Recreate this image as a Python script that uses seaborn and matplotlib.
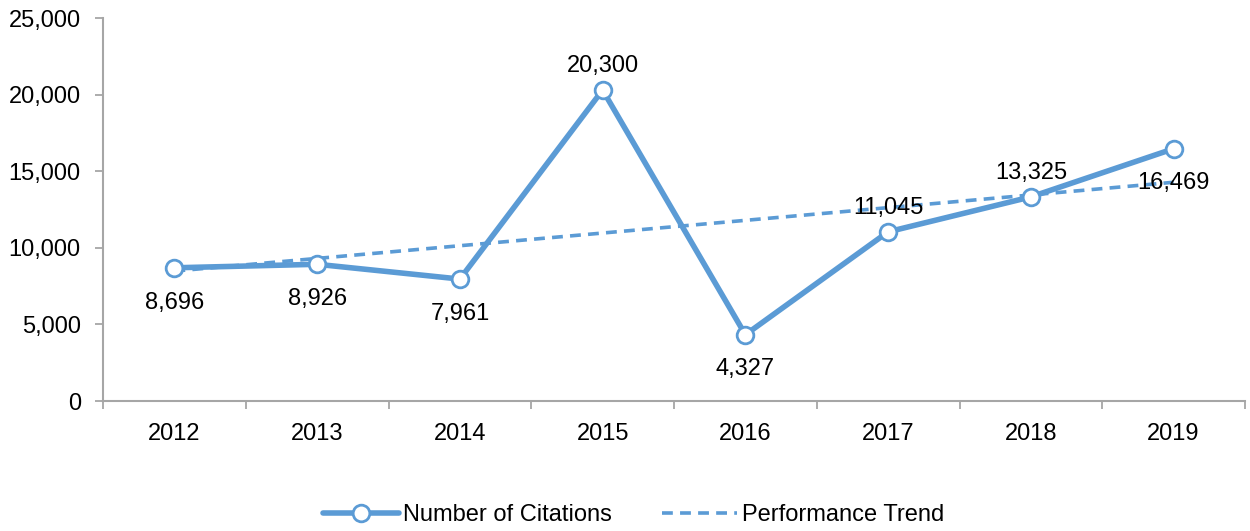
import numpy as np
import pandas as pd
import matplotlib
matplotlib.use("Agg")
import matplotlib.pyplot as plt
import seaborn as sns

# data
years = ["2012", "2013", "2014", "2015", "2016", "2017", "2018", "2019"]
citations = [8696, 8926, 7961, 20300, 4327, 11045, 13325, 16469]
# linear trend line end points (2012 and 2019)
trend_years = ["2012", "2019"]
trend_values = [8480, 14280]

label_side = ["below", "below", "below", "above", "below", "above", "above", "below"]

sns.set_style("white")
plt.rcParams["font.family"] = ["Liberation Sans", "DejaVu Sans"]
plt.rcParams["text.color"] = "black"

blue = "#5B9BD5"
grey = "#A6A6A6"

df = pd.DataFrame({"pos": np.arange(len(years)), "Citations": citations})
trend_df = pd.DataFrame({"pos": [years.index(y) for y in trend_years], "Trend": trend_values})

fig = plt.figure(figsize=(12.5, 5.31), dpi=100)
ax = fig.add_axes([0.0824, 0.2448, 0.9136, 0.7212])

sns.lineplot(data=df, x="pos", y="Citations", ax=ax, color=blue, linewidth=4.0,
             marker="o", markersize=12, markerfacecolor="white",
             markeredgecolor=blue, markeredgewidth=2.0, label="Number of Citations",
             zorder=3)
sns.lineplot(data=trend_df, x="pos", y="Trend", ax=ax, color=blue, linewidth=2.6,
             linestyle=(0, (3, 2)), label="Performance Trend", zorder=2)

# value labels
for i, v in enumerate(citations):
    dy = 17 if label_side[i] == "above" else -25
    ax.annotate(f"{v:,}", (i, v), xytext=(0, dy), textcoords="offset points",
                ha="center", va="center", fontsize=17, color="black", zorder=4)

ax.set_xlim(-0.5, len(years) - 0.5)
ax.set_ylim(0, 25000)
ax.set_yticks(range(0, 25001, 5000))
ax.set_yticklabels([f"{t:,}" for t in range(0, 25001, 5000)], fontsize=17)

# category ticks between the years, labels at the centres
ax.set_xticks(np.arange(-0.5, len(years), 1.0))
ax.set_xticklabels([])
ax.set_xticks(np.arange(len(years)), minor=True)
ax.set_xticklabels(years, minor=True, fontsize=17)
ax.tick_params(axis="x", which="minor", bottom=False, length=0, pad=16, labelcolor="black")
ax.tick_params(axis="x", which="major", bottom=True, length=6, color=grey, width=1.3,
               direction="out")
ax.tick_params(axis="y", left=True, length=6, color=grey, width=1.3, direction="out",
               pad=10, labelcolor="black")

ax.set_xlabel("")
ax.set_ylabel("")
for s in ["top", "right"]:
    ax.spines[s].set_visible(False)
for s in ["left", "bottom"]:
    ax.spines[s].set_color(grey)
    ax.spines[s].set_linewidth(1.5)

handles, labels = ax.get_legend_handles_labels()
ax.get_legend().remove()
fig.legend(handles, labels, loc="center", bbox_to_anchor=(0.507, 0.03), ncol=2,
           frameon=False, fontsize=17, handlelength=3.2, columnspacing=2.1,
           handletextpad=0.2, labelcolor="black")

fig.savefig("out.png", dpi=100)
